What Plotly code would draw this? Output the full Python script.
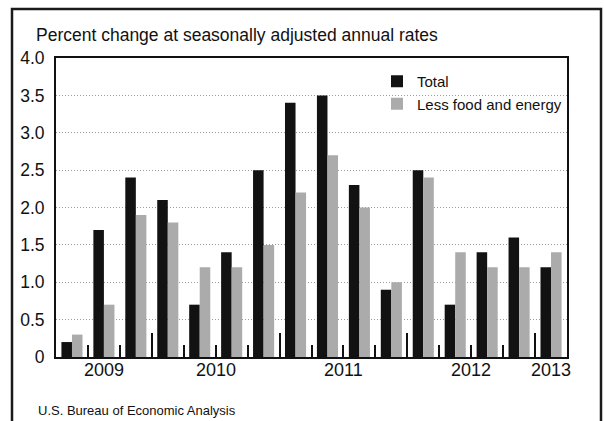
import plotly.graph_objects as go

quarters = ["2009Q2", "2009Q3", "2009Q4",
            "2010Q1", "2010Q2", "2010Q3", "2010Q4",
            "2011Q1", "2011Q2", "2011Q3", "2011Q4",
            "2012Q1", "2012Q2", "2012Q3", "2012Q4",
            "2013Q1"]
total = [0.2, 1.7, 2.4, 2.1, 0.7, 1.4, 2.5, 3.4, 3.5, 2.3, 0.9, 2.5, 0.7, 1.4, 1.6, 1.2]
less_food_energy = [0.3, 0.7, 1.9, 1.8, 1.2, 1.2, 1.5, 2.2, 2.7, 2.0, 1.0, 2.4, 1.4, 1.2, 1.2, 1.4]
series_names = ["Total", "Less food and energy"]
years = ["2009", "2010", "2011", "2012", "2013"]
y_ticks = [0, 0.5, 1.0, 1.5, 2.0, 2.5, 3.0, 3.5, 4.0]
y_ticktext = ["0", "0.5", "1.0", "1.5", "2.0", "2.5", "3.0", "3.5", "4.0"]
title_text = "Percent change at seasonally adjusted annual rates"
source_text = "U.S. Bureau of Economic Analysis"

# positions derived from the quarter list
xpos = list(range(len(quarters)))
year_of = [q[:4] for q in quarters]
year_first = {y: year_of.index(y) for y in years}
year_last = {y: len(year_of) - 1 - year_of[::-1].index(y) for y in years}
year_centers = [(year_first[y] + year_last[y]) / 2 for y in years]
year_bounds = [year_last[y] + 0.5 for y in years[:-1]]

FONT = "Liberation Sans, Arial, Helvetica, sans-serif"

W, H = 604, 421
L, R, T, B = 56, 37, 58, 64
pw, ph = W - L - R, H - T - B

def px_x(p):
    return (p - L) / pw

def px_y(p):
    return (H - B - p) / ph

fig = go.Figure()
fig.add_trace(go.Bar(x=xpos, y=total, name=series_names[0],
                     marker=dict(color="#121212", line=dict(width=0)),
                     hovertext=quarters))
fig.add_trace(go.Bar(x=xpos, y=less_food_energy, name=series_names[1],
                     marker=dict(color="#ababab", line=dict(width=0)),
                     hovertext=quarters))

fig.update_layout(
    width=W, height=H,
    margin=dict(l=L, r=R, t=T, b=B),
    paper_bgcolor="white", plot_bgcolor="white",
    barmode="group", bargap=0.34, bargroupgap=0,
    title=dict(text=title_text, x=36 / W, xanchor="left",
               y=1 - 35 / H, yanchor="middle",
               font=dict(family=FONT, size=17.5, color="#111")),
    legend=dict(x=px_x(377), y=px_y(65), xanchor="left", yanchor="top",
                bgcolor="rgba(0,0,0,0)", font=dict(family=FONT, size=15, color="#111"),
                itemwidth=30, tracegroupgap=0),
    xaxis=dict(range=[-0.5, len(quarters) - 0.5], tickmode="array",
               tickvals=year_bounds, ticktext=["" for _ in year_bounds],
               ticks="inside", ticklen=24, tickwidth=1.5, tickcolor="#111",
               minor=dict(ticks="inside", ticklen=12, tickwidth=1.5, tickcolor="#111",
                          tick0=0.5, dtick=1, showgrid=False),
               showgrid=False, showline=True, linewidth=2, linecolor="#111",
               mirror=True, zeroline=False),
    yaxis=dict(range=[0, 4], tickmode="array", tickvals=y_ticks, ticktext=y_ticktext,
               ticks="", showgrid=True, gridcolor="#9a9a9a", griddash="1px,2px", gridwidth=1,
               showline=True, linewidth=2, linecolor="#111", mirror=True,
               zeroline=False, ticklabelstandoff=6,
               tickfont=dict(family=FONT, size=17.5, color="#111")),
    showlegend=True,
)

# year labels centred under each year's quarters
for yr, cx in zip(years, year_centers):
    fig.add_annotation(text=yr, xref="x", yref="paper", x=cx, y=px_y(370),
                       xanchor="center", yanchor="middle", showarrow=False,
                       font=dict(family=FONT, size=18, color="#111"))

# outer frame of the figure
fig.add_shape(type="rect", xref="paper", yref="paper",
              x0=px_x(12), x1=px_x(601), y0=px_y(440), y1=px_y(9),
              line=dict(color="#1a1a1a", width=2.5), fillcolor="rgba(0,0,0,0)")

fig.add_annotation(text=source_text, xref="paper", yref="paper",
                   x=px_x(36), y=px_y(410), xanchor="left", yanchor="middle",
                   showarrow=False, font=dict(family=FONT, size=13, color="#111"))

fig.write_html("out.html", config={"displayModeBar": False},
               post_script="document.body.style.margin='0';document.body.style.overflow='hidden';")
